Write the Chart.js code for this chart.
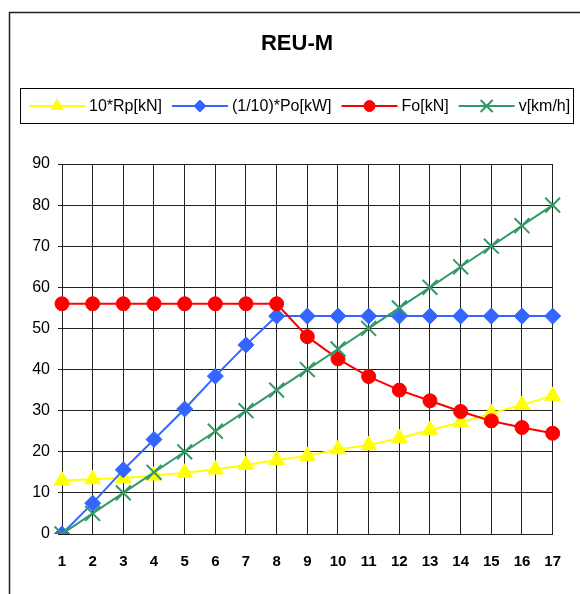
<!DOCTYPE html>
<html>
<head>
<meta charset="utf-8">
<script src="https://cdn.jsdelivr.net/npm/chart.js@4/dist/chart.umd.min.js"></script>
<style>
  html, body { margin: 0; padding: 0; background: #fff; }
  canvas { display: block; }
</style>
</head>
<body>
<canvas id="c" width="580" height="594"></canvas>
<script>
// Operating characteristic of the REU-M unit over 17 steps
const chartTitle = 'REU-M';
const categories = ['1','2','3','4','5','6','7','8','9','10','11','12','13','14','15','16','17'];
const seriesNames = ['10*Rp[kN]', '(1/10)*Po[kW]', 'Fo[kN]', 'v[km/h]'];
const rp10 = [13, 13.3, 13.6, 14.2, 14.9, 15.7, 16.8, 18, 19, 20.6, 21.6, 23.3, 25.3, 27.1, 29.4, 31.4, 33.6];
const po10 = [0, 7.5, 15.6, 23, 30.4, 38.4, 46, 53, 53, 53, 53, 53, 53, 53, 53, 53, 53];
const fo = [56, 56, 56, 56, 56, 56, 56, 56, 48, 42.6, 38.3, 35, 32.4, 29.8, 27.5, 25.9, 24.5];
const v = [0, 5, 10, 15, 20, 25, 30, 35, 40, 45, 50, 55, 60, 65, 70, 75, 80];
const yTicks = { min: 0, max: 90, step: 10 };

const FONT = '"Liberation Sans", Arial, sans-serif';

function drawMarker(ctx, style, r, cx, cy) {
  Chart.helpers.drawPoint(ctx, { pointStyle: style, radius: r, borderWidth: ctx.lineWidth, rotation: 0 }, cx, cy);
}

// White background, outer frame, title and boxed legend
const decorPlugin = {
  id: 'decor',
  beforeDraw(chart) {
    const ctx = chart.ctx;
    ctx.save();
    ctx.fillStyle = '#fff';
    ctx.fillRect(0, 0, chart.width, chart.height);
    ctx.strokeStyle = '#222';
    ctx.lineWidth = 1.5;
    ctx.beginPath();
    ctx.moveTo(9.5, chart.height + 5);
    ctx.lineTo(9.5, 12.5);
    ctx.lineTo(chart.width + 5, 12.5);
    ctx.stroke();
    ctx.restore();
  },
  afterDraw(chart) {
    const ctx = chart.ctx;
    ctx.save();
    // title
    ctx.fillStyle = '#000';
    ctx.font = 'bold 22px ' + FONT;
    ctx.textAlign = 'center';
    ctx.textBaseline = 'middle';
    ctx.fillText(chartTitle, 297, 44);

    // legend box
    ctx.strokeStyle = '#000';
    ctx.lineWidth = 1;
    ctx.strokeRect(20.5, 88.5, 553, 35);

    ctx.font = '16px ' + FONT;
    ctx.textAlign = 'left';
    let x = 29;
    const y = 106;
    chart.data.datasets.forEach((ds) => {
      ctx.strokeStyle = ds.borderColor;
      ctx.lineWidth = 2;
      ctx.beginPath();
      ctx.moveTo(x, y);
      ctx.lineTo(x + 56, y);
      ctx.stroke();
      ctx.fillStyle = ds.pointBackgroundColor;
      ctx.strokeStyle = ds.pointBorderColor;
      ctx.lineWidth = ds.pointBorderWidth || 1;
      drawMarker(ctx, ds.pointStyle, ds.legendRadius, x + 28, y);
      ctx.fillStyle = '#000';
      ctx.fillText(ds.label, x + 60, y + 1);
      x += 60 + ctx.measureText(ds.label).width + 10;
    });
    ctx.restore();
  }
};

new Chart(document.getElementById('c'), {
  type: 'line',
  data: {
    labels: categories,
    datasets: [
      {
        label: seriesNames[0], data: rp10, order: 4,
        borderColor: '#FFFF00', backgroundColor: '#FFFF00',
        pointStyle: 'triangle', pointRadius: 9, legendRadius: 7,
        pointBackgroundColor: '#FFFF00', pointBorderColor: '#FFFF00', pointBorderWidth: 1
      },
      {
        label: seriesNames[1], data: po10, order: 3,
        borderColor: '#3366FF', backgroundColor: '#3366FF',
        pointStyle: 'rectRot', pointRadius: 8, legendRadius: 6,
        pointBackgroundColor: '#3366FF', pointBorderColor: '#3366FF', pointBorderWidth: 1
      },
      {
        label: seriesNames[2], data: fo, order: 2,
        borderColor: '#FF0000', backgroundColor: '#FF0000',
        pointStyle: 'circle', pointRadius: 7, legendRadius: 5.5,
        pointBackgroundColor: '#FF0000', pointBorderColor: '#FF0000', pointBorderWidth: 1
      },
      {
        label: seriesNames[3], data: v, order: 1,
        borderColor: '#339966', backgroundColor: '#339966',
        pointStyle: 'crossRot', pointRadius: 10.5, legendRadius: 8.5,
        pointBackgroundColor: '#339966', pointBorderColor: '#339966', pointBorderWidth: 2
      }
    ].map(ds => Object.assign({ borderWidth: 2, tension: 0, fill: false, pointHoverRadius: ds.pointRadius }, ds))
  },
  options: {
    responsive: false,
    devicePixelRatio: 1,
    animation: false,
    events: [],
    layout: { padding: { top: 164, right: 26, bottom: 0, left: 0 } },
    plugins: { legend: { display: false }, title: { display: false }, tooltip: { enabled: false } },
    scales: {
      x: {
        type: 'category',
        offset: false,
        grid: { color: '#222', lineWidth: 1, drawTicks: false },
        border: { color: '#222', width: 1 },
        ticks: { color: '#000', font: { family: FONT, size: 15, weight: 'bold' }, padding: 19, maxRotation: 0, autoSkip: false },
        afterFit(scale) { scale.height = 60; }
      },
      y: {
        min: yTicks.min, max: yTicks.max,
        grid: { color: '#222', lineWidth: 1, tickLength: 4 },
        border: { color: '#222', width: 1 },
        ticks: { stepSize: yTicks.step, color: '#000', font: { family: FONT, size: 16 }, padding: 8 },
        afterFit(scale) { scale.width = 62; }
      }
    }
  },
  plugins: [decorPlugin]
});
</script>
</body>
</html>
